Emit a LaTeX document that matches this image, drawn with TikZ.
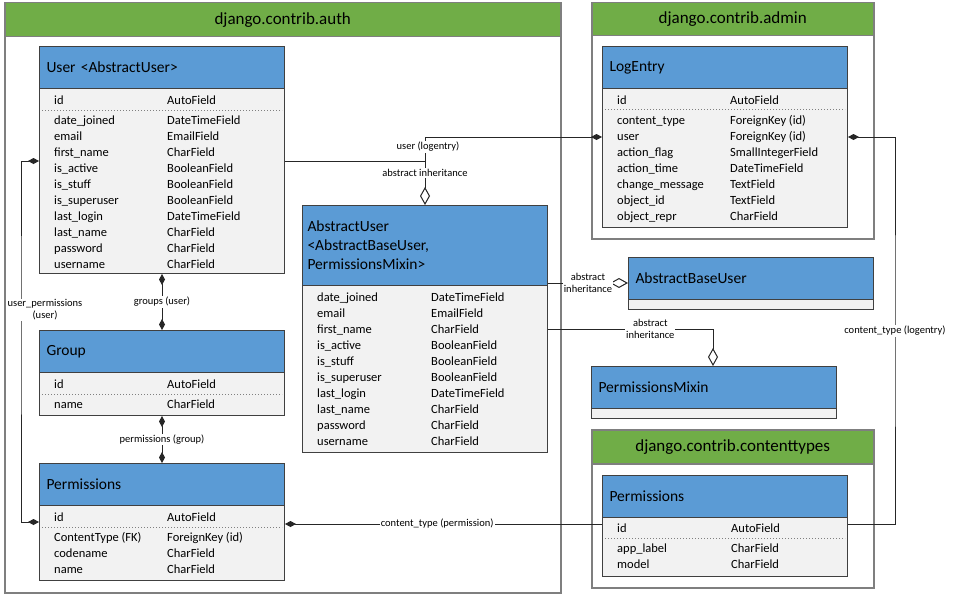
\documentclass[tikz,border=0pt]{standalone}
\usepackage{fontspec}
\setmainfont{Carlito}
\usetikzlibrary{arrows.meta,positioning,calc}
\definecolor{pkggreen}{HTML}{70AD47}
\definecolor{entblue}{HTML}{5B9BD5}
\definecolor{entgray}{HTML}{F2F2F2}
\definecolor{pkgline}{HTML}{7F7F7F}
\definecolor{entline}{HTML}{404040}
\definecolor{linkline}{HTML}{262626}
\tikzset{
  pkgframe/.style={draw=pkgline,line width=1.5pt,fill=white,anchor=north west,inner sep=0pt},
  pkghead/.style={draw=pkgline,line width=1.5pt,fill=pkggreen,anchor=north west,inner sep=0pt,font=\fontsize{17}{20}\selectfont},
  enthead/.style={draw=entline,line width=1pt,fill=entblue,anchor=north west,minimum height=42pt,text width=231pt,inner xsep=7pt,align=left,font=\fontsize{15.5}{19}\selectfont},
  entbody/.style={draw=entline,line width=1pt,fill=entgray,anchor=north west,inner sep=0pt,minimum width=245pt},
  fieldtext/.style={anchor=base west,yshift=-4.2pt,inner sep=0pt,font=\fontsize{12.5}{15}\selectfont},
  sepline/.style={draw=gray,dotted,line width=1pt},
  rellabel/.style={fill=white,inner sep=1pt,align=center,font=\fontsize{10.5}{12}\selectfont},
  link/.style={draw=linkline,line width=1pt},
  fkstart/.style={link,{Diamond[length=11pt,width=6pt]}-},
  fkfk/.style={link,{Diamond[length=11pt,width=6pt]}-{Diamond[length=11pt,width=6pt]}},
  inh/.style={link,-{Diamond[open,length=18pt,width=10pt]}}
}

\begin{document}
\begin{tikzpicture}[x=1pt,y=-1pt]
  \useasboundingbox (0,0) rectangle (954,594);

  % packages
  \node[pkgframe,minimum width=556pt,minimum height=590pt] (auth) at (4,2) {};
  \node[pkghead,minimum width=556pt,minimum height=34pt] (auth-h) at (4,2) {django.contrib.auth};
  \node[pkgframe,minimum width=282pt,minimum height=236pt] (admin) at (591,2) {};
  \node[pkghead,minimum width=282pt,minimum height=33pt] (admin-h) at (591,2) {django.contrib.admin};
  \node[pkgframe,minimum width=282pt,minimum height=158pt] (ctypes) at (591,429) {};
  \node[pkghead,minimum width=282pt,minimum height=34pt] (ctypes-h) at (591,429) {django.contrib.contenttypes};

  % User
  \node[enthead] (user-h) at (39,46) {User <AbstractUser>};
  \node[entbody,minimum height=185pt] (user-b) at (39,88) {};
  \node[fieldtext] (user-id) at (54,100) {id};
  \node[fieldtext] (user-idt) at (167,100) {AutoField};
  \draw[sepline] (42,111) -- (282,111);
  \foreach \fn/\ft [count=\i from 0] in {date\_joined/DateTimeField,email/EmailField,first\_name/CharField,is\_active/BooleanField,is\_stuff/BooleanField,is\_superuser/BooleanField,last\_login/DateTimeField,last\_name/CharField,password/CharField,username/CharField}{
    \node[fieldtext] (user-n\i) at (54,{120+16*\i}) {\fn};
    \node[fieldtext] (user-t\i) at (167,{120+16*\i}) {\ft};
  }

  % Group
  \node[enthead] (grp-h) at (39,330) {Group};
  \node[entbody,minimum height=43pt] (grp-b) at (39,372) {};
  \node[fieldtext] (grp-id) at (54,384) {id};
  \node[fieldtext] (grp-idt) at (167,384) {AutoField};
  \draw[sepline] (42,394) -- (282,394);
  \node[fieldtext] (grp-n0) at (54,404) {name};
  \node[fieldtext] (grp-t0) at (167,404) {CharField};

  % Permissions (auth)
  \node[enthead] (perm-h) at (39,463) {Permissions};
  \node[entbody,minimum height=75pt] (perm-b) at (39,505) {};
  \node[fieldtext] (perm-id) at (54,517) {id};
  \node[fieldtext] (perm-idt) at (167,517) {AutoField};
  \draw[sepline] (42,527) -- (282,527);
  \foreach \fn/\ft [count=\i from 0] in {ContentType (FK)/ForeignKey (id),codename/CharField,name/CharField}{
    \node[fieldtext] (perm-n\i) at (54,{537+16*\i}) {\fn};
    \node[fieldtext] (perm-t\i) at (167,{537+16*\i}) {\ft};
  }

  % AbstractUser
  \node[enthead,minimum height=80pt,inner xsep=5pt,text width=235pt] (au-h) at (302,205) {AbstractUser\\<AbstractBaseUser,\\PermissionsMixin>};
  \node[entbody,minimum height=167pt] (au-b) at (302,285) {};
  \foreach \fn/\ft [count=\i from 0] in {date\_joined/DateTimeField,email/EmailField,first\_name/CharField,is\_active/BooleanField,is\_stuff/BooleanField,is\_superuser/BooleanField,last\_login/DateTimeField,last\_name/CharField,password/CharField,username/CharField}{
    \node[fieldtext] (au-n\i) at (317,{297+16*\i}) {\fn};
    \node[fieldtext] (au-t\i) at (431,{297+16*\i}) {\ft};
  }

  % LogEntry
  \node[enthead] (log-h) at (602,46) {LogEntry};
  \node[entbody,minimum height=139pt] (log-b) at (602,88) {};
  \node[fieldtext] (log-id) at (617,100) {id};
  \node[fieldtext] (log-idt) at (730,100) {AutoField};
  \draw[sepline] (605,110) -- (845,110);
  \foreach \fn/\ft [count=\i from 0] in {content\_type/ForeignKey (id),user/ForeignKey (id),action\_flag/SmallIntegerField,action\_time/DateTimeField,change\_message/TextField,object\_id/TextField,object\_repr/CharField}{
    \node[fieldtext] (log-n\i) at (617,{120+16*\i}) {\fn};
    \node[fieldtext] (log-t\i) at (730,{120+16*\i}) {\ft};
  }

  % AbstractBaseUser, PermissionsMixin
  \node[enthead] (abu-h) at (628,257) {AbstractBaseUser};
  \node[entbody,minimum height=10pt] (abu-b) at (628,299) {};
  \node[enthead] (pm-h) at (591,366) {PermissionsMixin};
  \node[entbody,minimum height=10pt] (pm-b) at (591,408) {};

  % Permissions (contenttypes)
  \node[enthead] (ctp-h) at (602,475) {Permissions};
  \node[entbody,minimum height=59pt] (ctp-b) at (602,517) {};
  \node[fieldtext] (ctp-id) at (617,528) {id};
  \node[fieldtext] (ctp-idt) at (731,528) {AutoField};
  \draw[sepline] (605,538) -- (845,538);
  \node[fieldtext] (ctp-n0) at (617,548) {app\_label};
  \node[fieldtext] (ctp-t0) at (731,548) {CharField};
  \node[fieldtext] (ctp-n1) at (617,564) {model};
  \node[fieldtext] (ctp-t1) at (731,564) {CharField};

  % connector ends
  \coordinate (u-r) at (user-b.east |- 0,161);
  \coordinate (u-l) at (user-b.west |- 0,161);
  \coordinate (ujoin) at (au-h.north |- u-r);
  \coordinate (log-l) at (log-b.west |- 0,137);
  \coordinate (log-r) at (log-b.east |- 0,137);
  \coordinate (perm-l) at (perm-b.west |- 0,522);
  \coordinate (perm-r) at (perm-b.east |- 0,524);
  \coordinate (ctp-l) at (ctp-b.west |- 0,524);
  \coordinate (ctp-r) at (ctp-b.east |- 0,524);
  \coordinate (au-r1) at (au-h.east |- 0,283);
  \coordinate (abu-l) at (abu-h.west |- 0,283);
  \coordinate (au-r2) at (au-b.east |- 0,329);
  \coordinate (pm-t) at (pm-h.north -| 713,0);
  \coordinate (ctbend) at (895,331);
  \coordinate (upbend) at (21,309);

  % relations
  \draw[fkstart] (log-l) -| (ujoin |- 0,137) -- (ujoin) -- (u-r);
  \node[rellabel] (ullab) at (428,147) {user (logentry)};
  \draw[inh] (ujoin) -- (au-h.north) node[rellabel,pos=0.27] {abstract inheritance};
  \draw[inh] (au-r1) -- (abu-l) node[rellabel,midway] {abstract\\inheritance};
  \draw[inh] (au-r2) -| (pm-t) node[rellabel,pos=0.31] {abstract\\inheritance};
  \draw[fkstart] (log-r) -| (ctbend) |- (ctp-r);
  \node[rellabel] (ctlab) at (ctbend) {content\_type (logentry)};
  \draw[fkfk] (u-l) -| (upbend) |- (perm-l);
  \node[rellabel] (uplab) at (45,310) {user\_permissions\\(user)};
  \draw[fkfk] (user-b.south) -- (grp-h.north) node[rellabel,midway] {groups (user)};
  \draw[fkfk] (grp-b.south) -- (perm-h.north) node[rellabel,midway] {permissions (group)};
  \draw[fkstart] (perm-r) -- (ctp-l) node[rellabel,pos=0.48] {content\_type (permission)};
\end{tikzpicture}
\end{document}
